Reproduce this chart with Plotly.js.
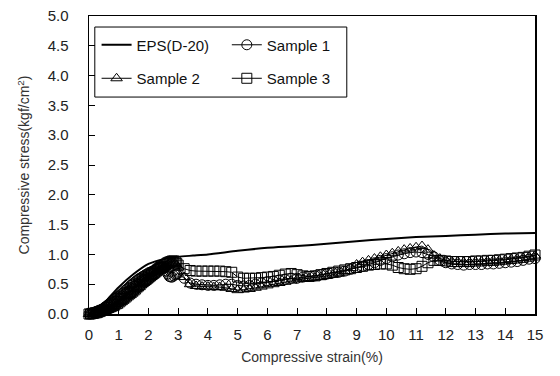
<!DOCTYPE html>
<html>
<head>
<meta charset="utf-8">
<script src="https://cdn.plot.ly/plotly-3.0.1.min.js"></script>
<style>
  html, body { margin: 0; padding: 0; background: #fff; }
  #chart { width: 560px; height: 376px; }
</style>
</head>
<body>
<div id="chart"></div>
<script>
// Compressive stress-strain curves: EPS reference and three samples
var strainEps = [0, 0.5, 0.7, 1, 1.5, 2, 2.5, 3, 3.5, 4, 5, 6, 7, 8, 9, 10, 11, 12, 13, 14, 15];
var stressEps = [0, 0.18, 0.29, 0.45, 0.67, 0.84, 0.92, 0.96, 0.98, 1.00, 1.06, 1.11, 1.14, 1.18, 1.22, 1.26, 1.29, 1.31, 1.33, 1.35, 1.36];

// strain readings (%): fine steps up to 3 %, coarser afterwards
var strain = [
  0, 0.05, 0.1, 0.15, 0.2, 0.25, 0.3, 0.35, 0.4, 0.45,
  0.5, 0.55, 0.6, 0.65, 0.7, 0.75, 0.8, 0.85, 0.9, 0.95,
  1.0, 1.05, 1.1, 1.15, 1.2, 1.25, 1.3, 1.35, 1.4, 1.45,
  1.5, 1.55, 1.6, 1.65, 1.7, 1.75, 1.8, 1.85, 1.9, 1.95,
  2.0, 2.05, 2.1, 2.15, 2.2, 2.25, 2.3, 2.35, 2.4, 2.45,
  2.5, 2.55, 2.6, 2.65, 2.7, 2.75, 2.8, 2.85, 2.9, 2.95,
  3.0,
  3.2, 3.4, 3.6, 3.8, 4.0, 4.2, 4.4, 4.6, 4.8, 5.0,
  5.2, 5.4, 5.6, 5.8, 6.0, 6.2, 6.4, 6.6, 6.8, 7.0,
  7.2, 7.4, 7.6, 7.8, 8.0, 8.2, 8.4, 8.6, 8.8, 9.0,
  9.2, 9.4, 9.6, 9.8, 10.0, 10.2, 10.4, 10.6, 10.8, 11.0,
  11.2, 11.4, 11.6, 11.8, 12.0, 12.2, 12.4, 12.6, 12.8, 13.0,
  13.2, 13.4, 13.6, 13.8, 14.0, 14.2, 14.4, 14.6, 14.8, 15.0
];

var sample1 = [
  0.00, 0.00, 0.01, 0.02, 0.03, 0.04, 0.05, 0.06, 0.07, 0.08,
  0.10, 0.12, 0.14, 0.16, 0.18, 0.20, 0.22, 0.24, 0.26, 0.28,
  0.30, 0.32, 0.34, 0.36, 0.39, 0.41, 0.43, 0.45, 0.48, 0.50,
  0.52, 0.54, 0.56, 0.58, 0.60, 0.61, 0.63, 0.64, 0.66, 0.67,
  0.69, 0.70, 0.71, 0.72, 0.73, 0.75, 0.76, 0.77, 0.78, 0.79,
  0.79, 0.77, 0.72, 0.67, 0.63, 0.62, 0.62, 0.64, 0.66, 0.67,
  0.68,
  0.60, 0.52, 0.50, 0.49, 0.48, 0.48, 0.49, 0.50, 0.50, 0.48,
  0.47, 0.48, 0.50, 0.52, 0.54, 0.55, 0.57, 0.58, 0.60, 0.60,
  0.62, 0.63, 0.64, 0.66, 0.67, 0.69, 0.70, 0.72, 0.75, 0.78,
  0.80, 0.83, 0.86, 0.90, 0.93, 0.96, 0.99, 1.01, 1.03, 1.04,
  1.03, 1.00, 0.96, 0.90, 0.86, 0.84, 0.83, 0.82, 0.83, 0.83,
  0.83, 0.84, 0.84, 0.85, 0.86, 0.87, 0.88, 0.90, 0.92, 0.93
];

var sample2 = [
  0.00, 0.00, 0.00, 0.01, 0.01, 0.01, 0.02, 0.02, 0.03, 0.03,
  0.04, 0.05, 0.06, 0.07, 0.08, 0.09, 0.10, 0.11, 0.13, 0.14,
  0.16, 0.18, 0.20, 0.22, 0.24, 0.26, 0.28, 0.30, 0.32, 0.34,
  0.36, 0.38, 0.41, 0.43, 0.45, 0.48, 0.50, 0.52, 0.54, 0.56,
  0.58, 0.60, 0.62, 0.64, 0.66, 0.68, 0.70, 0.72, 0.74, 0.76,
  0.77, 0.79, 0.81, 0.83, 0.85, 0.86, 0.86, 0.86, 0.85, 0.82,
  0.78,
  0.62, 0.50, 0.47, 0.46, 0.46, 0.45, 0.45, 0.44, 0.42, 0.40,
  0.41, 0.42, 0.44, 0.46, 0.48, 0.50, 0.52, 0.54, 0.56, 0.58,
  0.59, 0.60, 0.61, 0.62, 0.64, 0.66, 0.68, 0.72, 0.77, 0.83,
  0.87, 0.90, 0.93, 0.96, 0.99, 1.02, 1.05, 1.08, 1.10, 1.12,
  1.14, 1.08, 0.98, 0.93, 0.90, 0.88, 0.88, 0.87, 0.87, 0.88,
  0.88, 0.89, 0.90, 0.90, 0.91, 0.92, 0.93, 0.94, 0.96, 0.98
];

var sample3 = [
  0.00, 0.00, 0.01, 0.01, 0.02, 0.02, 0.03, 0.04, 0.05, 0.06,
  0.07, 0.08, 0.10, 0.11, 0.13, 0.14, 0.16, 0.18, 0.19, 0.21,
  0.22, 0.24, 0.26, 0.28, 0.30, 0.32, 0.34, 0.36, 0.38, 0.40,
  0.42, 0.44, 0.46, 0.48, 0.50, 0.52, 0.54, 0.56, 0.58, 0.60,
  0.62, 0.64, 0.66, 0.68, 0.70, 0.72, 0.74, 0.76, 0.78, 0.79,
  0.80, 0.82, 0.84, 0.86, 0.87, 0.88, 0.89, 0.89, 0.88, 0.85,
  0.82,
  0.76, 0.73, 0.72, 0.72, 0.72, 0.72, 0.72, 0.71, 0.70, 0.62,
  0.60, 0.60, 0.60, 0.61, 0.62, 0.63, 0.65, 0.67, 0.68, 0.66,
  0.64, 0.63, 0.64, 0.66, 0.68, 0.70, 0.72, 0.74, 0.76, 0.78,
  0.80, 0.82, 0.83, 0.84, 0.84, 0.82, 0.78, 0.76, 0.75, 0.76,
  0.80, 0.86, 0.90, 0.90, 0.89, 0.88, 0.88, 0.88, 0.88, 0.89,
  0.89, 0.90, 0.90, 0.91, 0.92, 0.93, 0.94, 0.95, 0.97, 0.99
];

var xTicks = [0, 1, 2, 3, 4, 5, 6, 7, 8, 9, 10, 11, 12, 13, 14, 15];
var yTicks = [0, 0.5, 1.0, 1.5, 2.0, 2.5, 3.0, 3.5, 4.0, 4.5, 5.0];

var FONT = 'Liberation Sans, Arial, sans-serif';

function sampleTrace(name, y, symbol, legendId, group) {
  return {
    x: strain, y: y, name: name, type: 'scatter', mode: 'lines+markers',
    line: { color: '#000', width: 1 },
    marker: { symbol: symbol, size: 10, color: '#000', line: { color: '#000', width: 1 } },
    cliponaxis: false, legend: legendId, legendgroup: group
  };
}

var traces = [
  { x: strainEps, y: stressEps, name: 'EPS(D-20)', type: 'scatter', mode: 'lines',
    line: { color: '#000', width: 2, shape: 'spline', smoothing: 0.6 },
    legend: 'legend', legendgroup: 'g1' },
  sampleTrace('Sample 2', sample2, 'triangle-up-open', 'legend', 'g2'),
  sampleTrace('Sample 1', sample1, 'circle-open', 'legend2', 'g3'),
  sampleTrace('Sample 3', sample3, 'square-open', 'legend2', 'g4')
];

var legendBase = {
  yanchor: 'top', xanchor: 'left', bgcolor: 'rgba(0,0,0,0)', borderwidth: 0,
  font: { family: FONT, size: 15, color: '#111' }, tracegroupgap: 11,
  traceorder: 'grouped', itemwidth: 30
};

var layout = {
  width: 560, height: 376,
  margin: { l: 89, r: 25, t: 16, b: 62 },
  paper_bgcolor: '#fff', plot_bgcolor: '#fff',
  font: { family: FONT, color: '#222' },
  showlegend: true,
  legend: Object.assign({}, legendBase, { x: 0.017, y: 0.958 }),
  legend2: Object.assign({}, legendBase, { x: 0.309, y: 0.958 }),
  xaxis: {
    range: [0, 15], tickvals: xTicks, ticktext: xTicks.map(String),
    ticks: 'inside', ticklen: 6, tickcolor: '#000', tickwidth: 1,
    showline: true, linecolor: '#000', linewidth: 1.5, mirror: true,
    showgrid: false, zeroline: false,
    tickfont: { family: FONT, size: 15, color: '#222' }, ticklabelstandoff: 6,
    title: { text: 'Compressive strain(%)', font: { family: FONT, size: 14, color: '#333' }, standoff: 10 }
  },
  yaxis: {
    range: [0, 5], tickvals: yTicks, ticktext: yTicks.map(function (v) { return v.toFixed(1); }),
    ticks: 'inside', ticklen: 6, tickcolor: '#000', tickwidth: 1,
    showline: true, linecolor: '#000', linewidth: 1.5, mirror: true,
    showgrid: false, zeroline: false,
    tickfont: { family: FONT, size: 15, color: '#222' }, ticklabelstandoff: 16,
    title: { text: 'Compressive stress(kgf/cm<sup>2</sup>)', font: { family: FONT, size: 14, color: '#333' }, standoff: 14 }
  },
  shapes: [
    { type: 'rect', xref: 'paper', yref: 'paper', x0: 0.013, x1: 0.578, y0: 0.728, y1: 0.963,
      line: { color: '#000', width: 1 }, fillcolor: 'rgba(0,0,0,0)' }
  ]
};

Plotly.newPlot('chart', traces, layout, { displayModeBar: false, staticPlot: true });
</script>
</body>
</html>
